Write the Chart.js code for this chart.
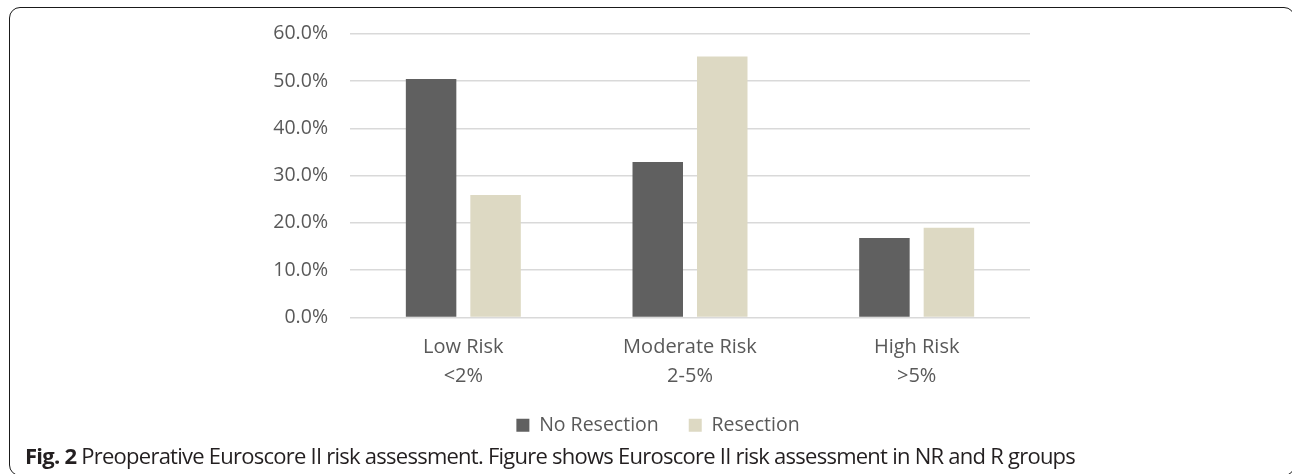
<!DOCTYPE html>
<html>
<head>
<meta charset="utf-8">
<script src="https://cdn.jsdelivr.net/npm/chart.js@4.4.1/dist/chart.umd.min.js"></script>
<style>
  html, body { margin: 0; padding: 0; background: #fff; }
  body { width: 1292px; height: 474px; position: relative; overflow: hidden; }
  #frame {
    position: absolute; left: 9px; top: 7px; width: 1286px; height: 469px;
    box-sizing: border-box; border: 1.5px solid #1a1a1a; border-radius: 11px;
  }
  #wrap { position: absolute; left: 0; top: 0; width: 1292px; height: 445px; }
  #caption {
    position: absolute; left: 25px; top: 440px; white-space: nowrap;
    font-family: "Open Sans", sans-serif; font-size: 22px; letter-spacing: -0.75px; color: #231f20;
  }
  #caption b { font-weight: 700; }
</style>
</head>
<body>
<div id="frame"></div>
<div id="wrap"><canvas id="chart"></canvas></div>
<div id="caption"><b>Fig. 2</b> Preoperative Euroscore II risk assessment. Figure shows Euroscore II risk assessment in NR and R groups</div>
<script>
var categories = [['Low Risk', '<2%'], ['Moderate Risk', '2-5%'], ['High Risk', '>5%']];
var noResection = [50.4, 32.9, 16.8];
var resection = [25.9, 55.2, 19.0];
var yTicks = [0, 10, 20, 30, 40, 50, 60];

// legend sits centred under the y labels + plot, not under the whole canvas
var legendShift = {
  id: 'legendShift',
  afterLayout: function(chart) {
    chart.legend.left = 286;
    chart.legend.right = chart.chartArea.right;
  }
};

var ctx = document.getElementById('chart').getContext('2d');
var chart = new Chart(ctx, {
  type: 'bar',
  data: {
    labels: categories,
    datasets: [{
      label: 'No Resection',
      data: noResection,
      backgroundColor: '#606060',
      categoryPercentage: 0.569,
      barPercentage: 0.783
    }, {
      label: 'Resection',
      data: resection,
      backgroundColor: '#ddd9c3',
      categoryPercentage: 0.569,
      barPercentage: 0.783
    }]
  },
  plugins: [legendShift],
  options: {
    responsive: true,
    maintainAspectRatio: false,
    animation: false,
    layout: { padding: { left: 0, right: 262, top: 33, bottom: 0 } },
    plugins: {
      tooltip: { enabled: false },
      legend: {
        position: 'bottom',
        labels: {
          boxWidth: 13, boxHeight: 13, padding: 30,
          color: '#595959',
          font: { family: 'Open Sans', size: 19.5 }
        }
      }
    },
    scales: {
      x: {
        grid: { display: false },
        border: { display: false },
        ticks: {
          color: '#595959', padding: 8,
          font: { family: 'Open Sans', size: 20, lineHeight: 1.42 }
        },
        afterFit: function(scale) { scale.height = 68; }
      },
      y: {
        min: 0, max: 60,
        afterBuildTicks: function(scale) {
          scale.ticks = yTicks.map(function(v) { return { value: v }; });
        },
        afterFit: function(scale) { scale.width = 350; },
        grid: { color: '#d9d9d9', lineWidth: 1.5, drawTicks: false },
        border: { display: false },
        ticks: {
          color: '#595959', padding: 22,
          font: { family: 'Open Sans', size: 19.5 },
          callback: function(v) { return v.toFixed(1) + '%'; }
        }
      }
    }
  }
});
</script>
</body>
</html>
